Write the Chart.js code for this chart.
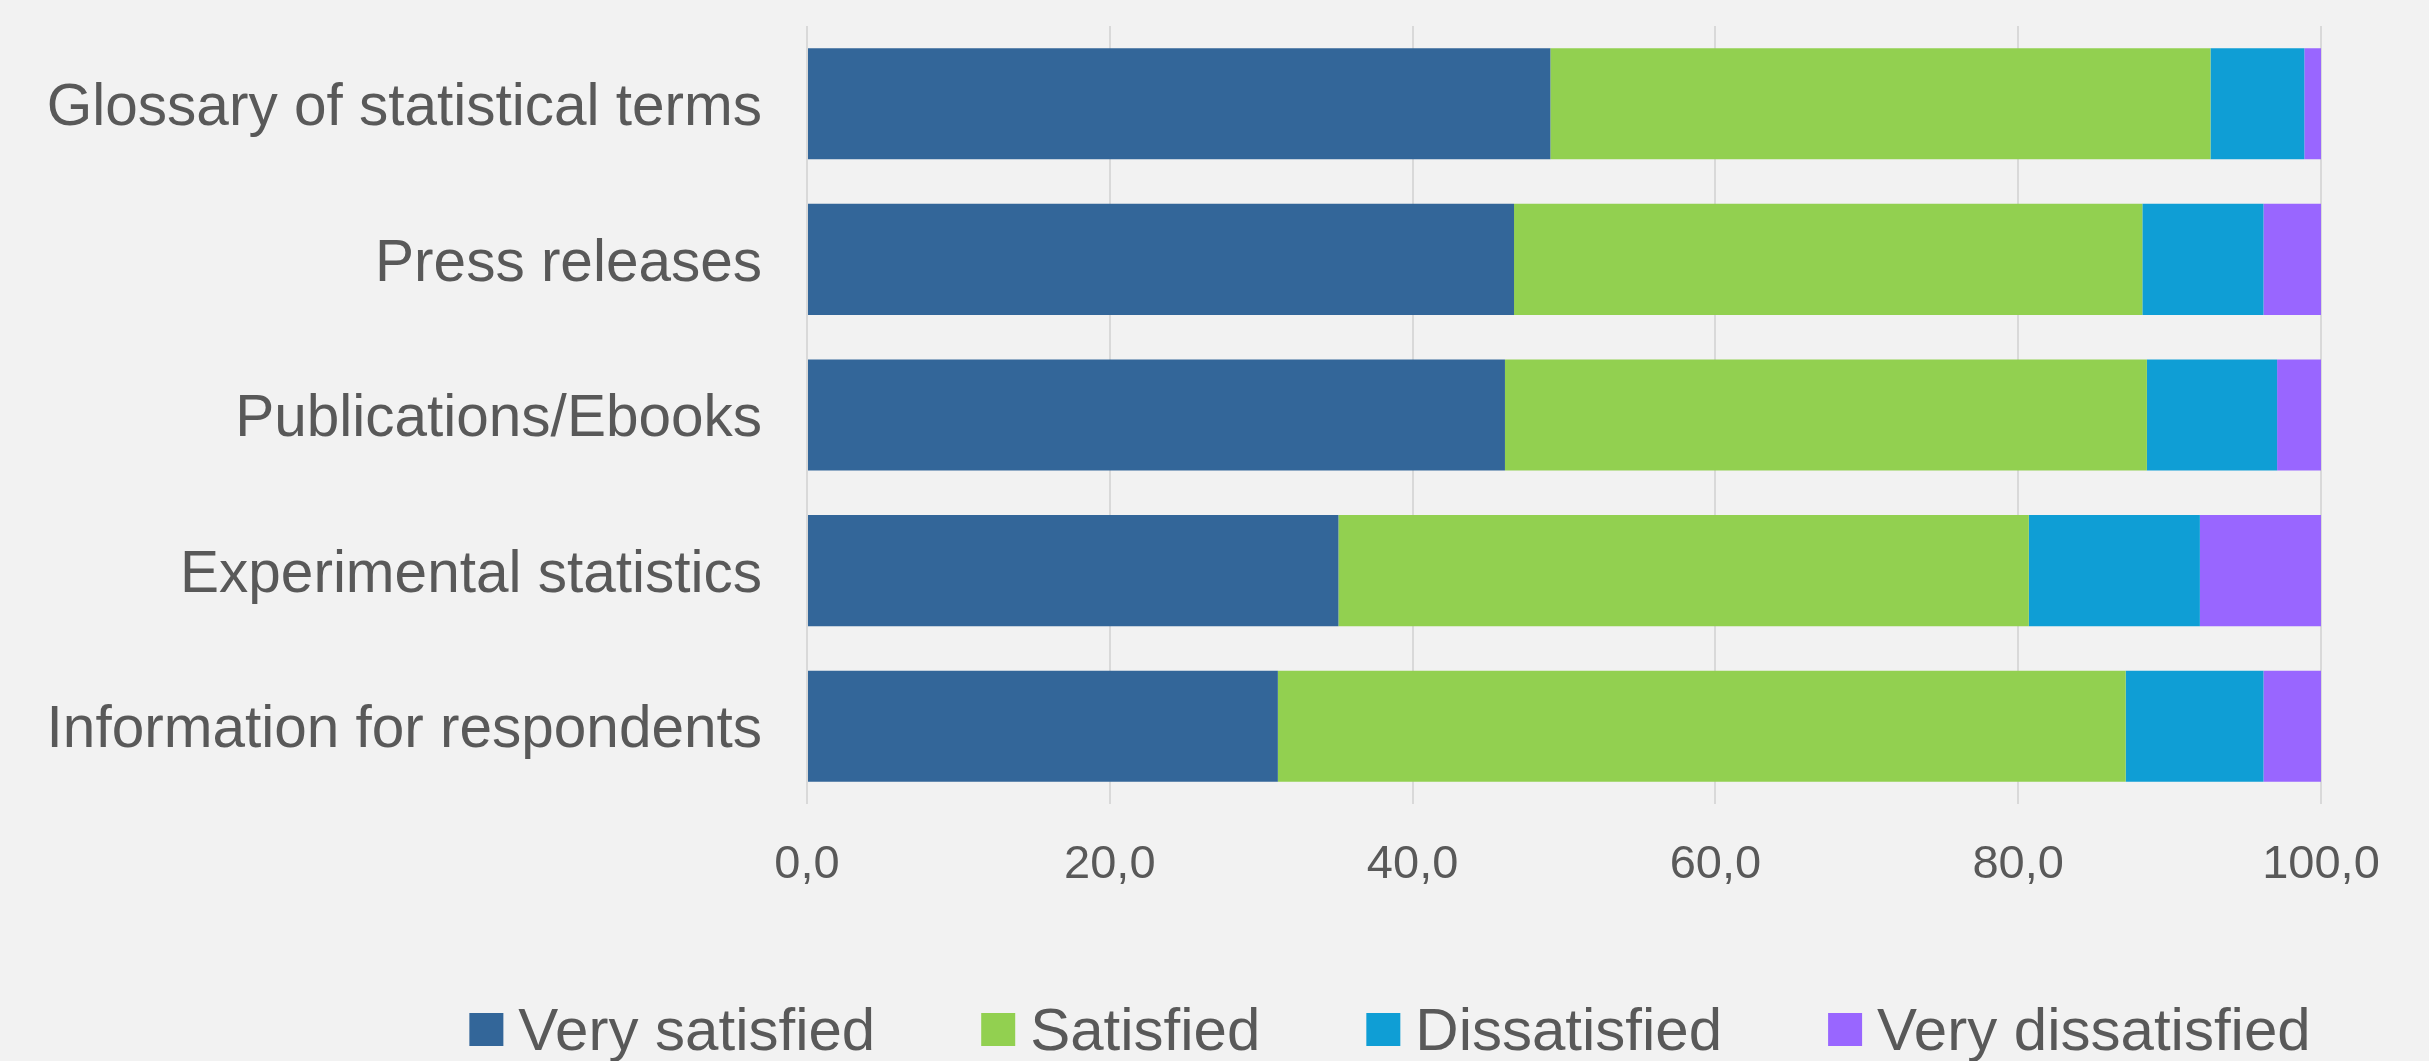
<!DOCTYPE html>
<html>
<head>
<meta charset="utf-8">
<title>Satisfaction with website content</title>
<script src="https://cdn.jsdelivr.net/npm/chart.js@4/dist/chart.umd.min.js"></script>
<style>
    html, body {
        margin: 0;
        padding: 0;
        background: #f2f2f2;
    }
    #chart-wrap {
        position: relative;
        width: 2429px;
        height: 1061px;
    }
</style>
</head>
<body>
<div id="chart-wrap"><canvas id="chart"></canvas></div>
<script>
// Chart data
var categories = [
    'Glossary of statistical terms',
    'Press releases',
    'Publications/Ebooks',
    'Experimental statistics',
    'Information for respondents'
];
var verySatisfied    = [49.1, 46.7, 46.1, 35.1, 31.1];
var satisfied        = [43.6, 41.5, 42.4, 45.6, 56.0];
var dissatisfied     = [6.2, 8.0, 8.6, 11.3, 9.1];
var veryDissatisfied = [1.1, 3.8, 2.9, 8.0, 3.8];
var seriesNames  = ['Very satisfied', 'Satisfied', 'Dissatisfied', 'Very dissatisfied'];
var seriesColors = ['#336699', '#92d050', '#0f9ed5', '#9966ff'];
var xTicks = [0, 20, 40, 60, 80, 100];

(function() {
    'use strict';

    var FONT = '"Liberation Sans", Arial, sans-serif';
    var TEXT_COLOR = '#595959';

    /**
     * Format tick value with a decimal comma
     */
    function formatTick(value) {
        return value.toFixed(1).replace('.', ',');
    }

    /**
     * Legend drawn by hand so it sits where the original one does
     */
    var bottomLegend = {
        id: 'bottomLegend',
        afterDraw: function(chart) {
            var ctx = chart.ctx;
            var boxW = 34, boxH = 33, textGap = 15, itemGap = 106;
            var baseline = 1050;
            var centerX = 1390;

            ctx.save();
            ctx.font = '60px ' + FONT;
            ctx.textBaseline = 'alphabetic';
            ctx.textAlign = 'left';

            var widths = seriesNames.map(function(name) {
                return ctx.measureText(name).width;
            });
            var total = 0;
            widths.forEach(function(w, i) {
                total += boxW + textGap + w + (i < widths.length - 1 ? itemGap : 0);
            });

            var x = centerX - total / 2;
            seriesNames.forEach(function(name, i) {
                ctx.fillStyle = seriesColors[i];
                ctx.fillRect(x, baseline - 37, boxW, boxH);
                ctx.fillStyle = TEXT_COLOR;
                ctx.fillText(name, x + boxW + textGap, baseline);
                x += boxW + textGap + widths[i] + itemGap;
            });
            ctx.restore();
        }
    };

    /**
     * Paint the page background inside the canvas too
     */
    var background = {
        id: 'background',
        beforeDraw: function(chart) {
            var ctx = chart.ctx;
            ctx.save();
            ctx.fillStyle = '#f2f2f2';
            ctx.fillRect(0, 0, chart.width, chart.height);
            ctx.restore();
        }
    };

    var seriesData = [verySatisfied, satisfied, dissatisfied, veryDissatisfied];
    var datasets = seriesNames.map(function(name, i) {
        return {
            label: name,
            data: seriesData[i],
            backgroundColor: seriesColors[i],
            borderWidth: 0,
            categoryPercentage: 1.0,
            barPercentage: 0.714
        };
    });

    new Chart(document.getElementById('chart'), {
        type: 'bar',
        data: {
            labels: categories,
            datasets: datasets
        },
        options: {
            indexAxis: 'y',
            responsive: true,
            maintainAspectRatio: false,
            animation: false,
            layout: {
                padding: { top: 26, right: 108, bottom: 0, left: 0 }
            },
            plugins: {
                legend: { display: false },
                tooltip: { enabled: false }
            },
            scales: {
                x: {
                    stacked: true,
                    min: 0,
                    max: 100,
                    afterBuildTicks: function(scale) {
                        scale.ticks = xTicks.map(function(v) { return { value: v }; });
                    },
                    afterFit: function(scale) {
                        scale.height = 257;
                        scale.paddingLeft = 0;
                        scale.paddingRight = 0;
                    },
                    grid: {
                        color: '#d9d9d9',
                        lineWidth: 2,
                        drawTicks: false
                    },
                    border: { display: false },
                    ticks: {
                        padding: 33,
                        color: TEXT_COLOR,
                        font: { family: FONT, size: 47 },
                        maxRotation: 0,
                        callback: function(value) {
                            return formatTick(value);
                        }
                    }
                },
                y: {
                    stacked: true,
                    afterFit: function(scale) {
                        scale.width = 807;
                        scale.paddingTop = 0;
                        scale.paddingBottom = 0;
                    },
                    grid: { display: false },
                    border: { display: false },
                    ticks: {
                        padding: 37,
                        labelOffset: 5,
                        color: TEXT_COLOR,
                        font: { family: FONT, size: 58.5 }
                    }
                }
            }
        },
        plugins: [background, bottomLegend]
    });
})();
</script>
</body>
</html>
